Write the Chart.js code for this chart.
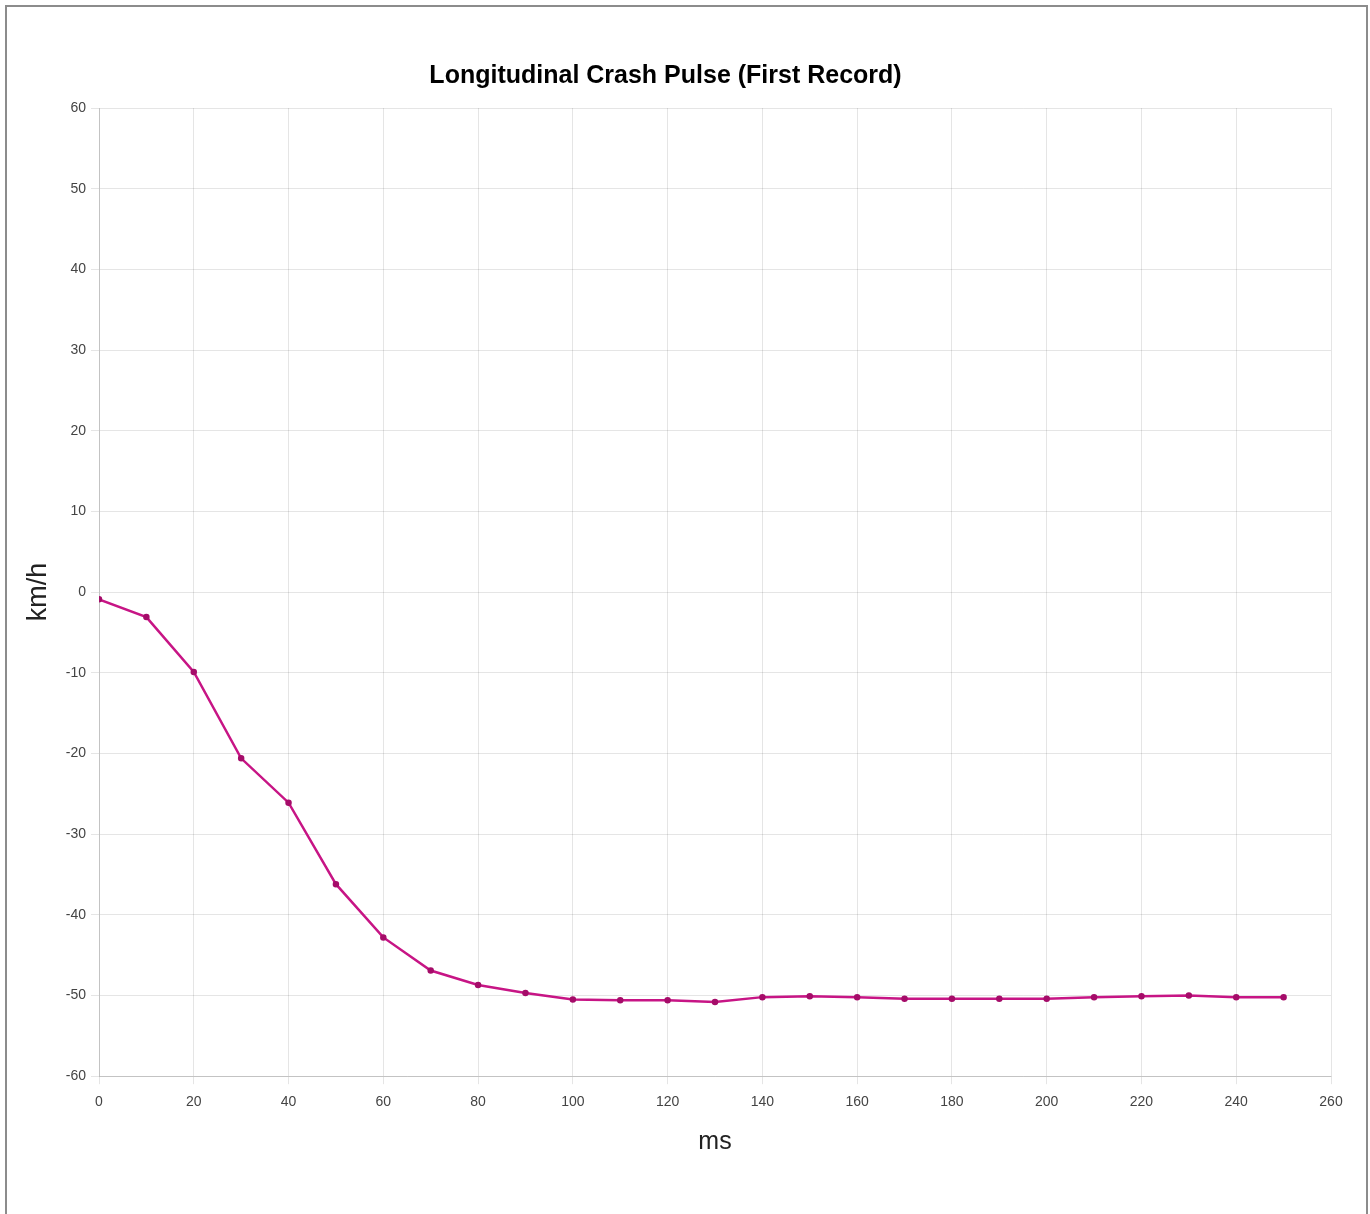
<!DOCTYPE html>
<html>
<head>
<meta charset="utf-8">
<script src="https://cdn.jsdelivr.net/npm/chart.js@4.4.1/dist/chart.umd.min.js"></script>
<style>
    html, body { margin: 0; padding: 0; background: #fff; }
    .frame {
        position: absolute; left: 5px; top: 5px; width: 1359px; height: 1230px;
        border: 2px solid #8c8c8c;
    }
    .chart-wrap { position: absolute; left: 0; top: 0; width: 1370px; height: 1214px; }
</style>
</head>
<body>
<div class="frame"></div>
<div class="chart-wrap">
    <canvas id="chartPulse" width="1370" height="1214"></canvas>
</div>
<script>
// time (ms) and longitudinal velocity change (km/h)
const timeMs = [0, 10, 20, 30, 40, 50, 60, 70, 80, 90, 100, 110, 120, 130, 140, 150, 160, 170, 180, 190, 200, 210, 220, 230, 240, 250];
const speedKmh = [-0.9, -3.1, -9.9, -20.6, -26.1, -36.2, -42.8, -46.9, -48.7, -49.7, -50.5, -50.6, -50.6, -50.8, -50.2, -50.1, -50.2, -50.4, -50.4, -50.4, -50.4, -50.2, -50.1, -50.0, -50.2, -50.2];

const xRange = [0, 260];
const xStep = 20;
const yRange = [-60, 60];
const yStep = 10;

const lineColor = 'rgb(199, 21, 133)';
const fontFamily = "'Liberation Sans', Arial, sans-serif";

const optionsPulse = {
    responsive: false,
    animation: false,
    layout: {
        padding: { top: 61, right: 39, bottom: 57, left: 0 }
    },
    plugins: {
        legend: {
            display: false
        },
        title: {
            display: true,
            text: 'Longitudinal Crash Pulse (First Record)',
            color: '#000',
            font: { family: fontFamily, size: 25, weight: 'bold' },
            padding: { top: 0, bottom: 17 }
        },
        tooltip: { enabled: false }
    },
    scales: {
        x: {
            type: 'linear',
            min: xRange[0],
            max: xRange[1],
            ticks: {
                stepSize: xStep,
                padding: 10,
                color: '#444',
                font: { family: fontFamily, size: 14 }
            },
            grid: { color: 'rgba(0,0,0,0.1)', tickLength: 8 },
            border: { color: 'rgba(0,0,0,0.15)' },
            title: {
                display: true,
                text: 'ms',
                color: '#222',
                font: { family: fontFamily, size: 25 },
                padding: { top: 6, bottom: 0 }
            }
        },
        y: {
            min: yRange[0],
            max: yRange[1],
            ticks: {
                stepSize: yStep,
                padding: 5,
                color: '#444',
                font: { family: fontFamily, size: 14 }
            },
            grid: { color: 'rgba(0,0,0,0.1)', tickLength: 8 },
            border: { color: 'rgba(0,0,0,0.15)' },
            title: {
                display: true,
                text: 'km/h',
                color: '#222',
                font: { family: fontFamily, size: 27 },
                padding: { top: 22, bottom: 0 }
            },
            afterFit: function (scale) {
                scale.width = 99;
            }
        }
    },
    elements: {
        point: {
            radius: 2,
            hoverRadius: 3
        }
    }
};

new Chart(document.getElementById('chartPulse').getContext('2d'), {
    type: 'line',
    data: {
        datasets: [{
            data: timeMs.map((t, i) => ({ x: t, y: speedKmh[i] })),
            borderColor: lineColor,
            backgroundColor: 'rgb(165, 12, 105)',
            pointBorderColor: 'rgb(165, 12, 105)',
            borderWidth: 2.5,
            fill: false,
            tension: 0
        }]
    },
    options: optionsPulse
});
</script>
</body>
</html>
